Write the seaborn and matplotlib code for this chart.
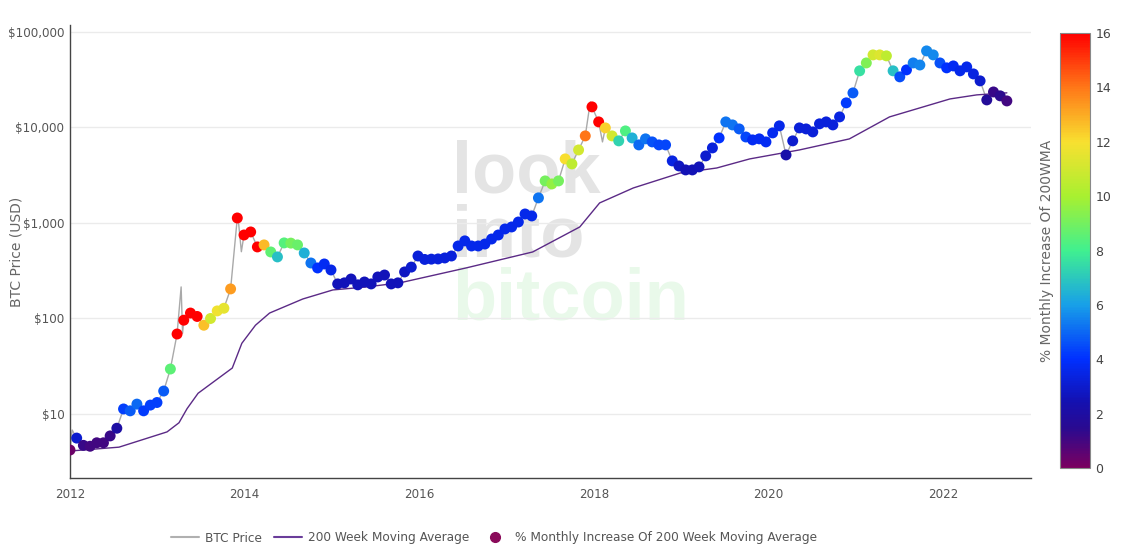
import numpy as np
import pandas as pd
import matplotlib
matplotlib.use("Agg")
import matplotlib.pyplot as plt
import matplotlib.dates as mdates
from matplotlib.colors import LinearSegmentedColormap, Normalize
from matplotlib.lines import Line2D
import seaborn as sns

btc_price = [
    4.2, 5.6, 4.7, 4.6, 5.0, 5.0, 5.9, 7.1, 11.3, 10.8,
    12.7, 10.8, 12.4, 13.2, 17.4, 29.6, 68.8, 96, 114, 105,
    85, 100, 120, 128, 204, 1127, 748, 805, 561, 589,
    497, 441, 618, 615, 589, 485, 381, 338, 372, 322,
    230, 236, 259, 225, 241, 230, 272, 285, 230, 236,
    307, 345, 451, 415, 418, 420, 430, 451, 574, 649,
    574, 574, 602, 679, 748, 865, 908, 1023, 1241, 1184,
    1830, 2754, 2560, 2754, 4680, 4150, 5810, 8150, 16400, 11420,
    9880, 8150, 7230, 9190, 7760, 6560, 7590, 7050, 6560, 6560,
    4460, 3950, 3590, 3590, 3860, 5030, 6100, 7760, 11420, 10620,
    9640, 7940, 7400, 7590, 7050, 8760, 10380, 5150, 7230, 9880,
    9640, 8970, 10900, 11420, 10620, 12880, 18070, 22970, 39100, 47300,
    57400, 57400, 56100, 39100, 33800, 40000, 47300, 45000, 63200, 57400,
    47300, 42000, 44000, 39100, 43000, 36300, 30700, 19400, 23500, 21400,
    18930,
]

# % monthly increase of the 200 week moving average (marker colour)
ma_increase = [
    0.3, 3.0, 1.2, 1.0, 1.0, 1.0, 1.2, 2.0, 4.3, 4.8,
    5.0, 4.2, 4.3, 4.3, 4.8, 8.5, 16, 16, 16, 16,
    12.6, 11.0, 11.8, 11.5, 13.3, 16, 16, 16, 16, 12.7,
    8.6, 6.8, 8.4, 9.0, 8.8, 6.4, 5.2, 4.0, 3.8, 3.5,
    2.6, 2.6, 2.6, 2.6, 2.6, 2.6, 2.6, 2.6, 2.6, 2.6,
    2.8, 3.0, 3.2, 3.3, 3.3, 3.3, 3.3, 3.3, 3.6, 3.6,
    3.6, 3.6, 3.6, 3.6, 3.6, 3.6, 3.6, 3.6, 3.6, 3.6,
    5.2, 9.0, 9.6, 9.0, 12.0, 10.5, 11.0, 14.0, 16, 16,
    12.3, 11.0, 7.3, 8.3, 6.4, 5.0, 5.2, 4.6, 4.4, 4.4,
    3.4, 2.8, 2.5, 2.5, 2.6, 3.0, 3.3, 4.0, 5.2, 5.2,
    4.8, 4.4, 3.8, 3.8, 3.8, 3.7, 3.6, 2.2, 3.0, 3.2,
    3.2, 3.2, 3.3, 3.3, 3.3, 3.4, 4.2, 4.8, 7.6, 9.2,
    11.0, 11.3, 10.5, 6.8, 4.5, 4.0, 5.4, 5.5, 5.6, 5.6,
    4.6, 4.0, 3.8, 3.6, 3.6, 3.4, 3.0, 1.7, 1.2, 1.4,
    1.0,
]

# intraday spikes of the price line
spike_dates = ["2012-01-10", "2013-04-10", "2013-04-16", "2013-12-04", "2013-12-18",
               "2017-12-17", "2018-02-06", "2021-04-14", "2021-11-10"]
spike_price = [6.8, 214, 70, 1150, 500, 18500, 7050, 63000, 68000]

# 200 week moving average
ma_dates = ["2012-01-01", "2012-07-24", "2013-02-10", "2013-04-01", "2013-05-05",
            "2013-06-20", "2013-11-10", "2013-12-20", "2014-02-15", "2014-04-15",
            "2014-09-01", "2015-01-05", "2015-05-26", "2015-10-12", "2016-07-15",
            "2017-04-20", "2017-11-03", "2018-01-25", "2018-06-15", "2018-12-28",
            "2019-05-30", "2019-10-15", "2020-05-10", "2020-12-05", "2021-05-22",
            "2022-01-30", "2022-05-22", "2022-09-25"]
ma_value = [4.1, 4.5, 6.5, 8.1, 11.4, 16.5, 30.3, 55, 85, 114,
            160, 199, 214, 236, 338, 497, 908, 1620, 2324, 3330,
            3760, 4680, 5810, 7580, 12880, 19860, 21900, 23000]

dates = pd.date_range("2012-01-01", periods=len(btc_price), freq="28D")
dots = pd.DataFrame({"date": dates, "price": btc_price, "incr": ma_increase})
line = pd.concat([
    dots[["date", "price"]],
    pd.DataFrame({"date": pd.to_datetime(spike_dates), "price": spike_price}),
]).sort_values("date")
ma = pd.DataFrame({"date": pd.to_datetime(ma_dates), "ma": ma_value})

cmap = LinearSegmentedColormap.from_list("incr", [
    (0.0, "#7a0060"), (0.09, "#2a0a90"), (0.15, "#1410b0"), (0.25, "#0030ff"),
    (0.375, "#18a0e8"), (0.5, "#40f090"), (0.625, "#a8f030"), (0.75, "#f8e030"),
    (0.875, "#ff7818"), (1.0, "#ff0000")])
norm = Normalize(0, 16)

sns.set_style("white")
plt.rcParams["font.family"] = ["DejaVu Sans"]

fig = plt.figure(figsize=(11.26, 5.47), dpi=100)
ax = fig.add_axes([70 / 1126, 69 / 547, 961 / 1126, 453 / 547])

# watermark
for txt, y, col in [("look", 0.63, "#e4e4e4"), ("into", 0.49, "#e4e4e4"), ("bitcoin", 0.35, "#e9f9ea")]:
    ax.text(0.398, y, txt, transform=ax.transAxes, fontsize=52, fontweight="bold",
            family="Liberation Sans", color=col, zorder=0, va="baseline")

sns.lineplot(data=line, x="date", y="price", color="#a9a9a9", linewidth=1, ax=ax, zorder=2)
sns.lineplot(data=ma, x="date", y="ma", color="#5b2a86", linewidth=1, ax=ax, zorder=2)
sns.scatterplot(data=dots, x="date", y="price", hue="incr",
                palette=cmap, hue_norm=norm, s=62, linewidth=0, legend=False, ax=ax, zorder=3)

ax.set_yscale("log")
ax.set_ylim(2.14, 118000)
ax.set_xlim(pd.Timestamp("2012-01-01"), pd.Timestamp("2023-01-04"))
ax.set_yticks([10, 100, 1000, 10000, 100000])
ax.set_yticklabels(["$10", "$100", "$1,000", "$10,000", "$100,000"])
ax.yaxis.set_minor_locator(matplotlib.ticker.NullLocator())
ax.xaxis.set_major_locator(mdates.YearLocator(2))
ax.xaxis.set_major_formatter(mdates.DateFormatter("%Y"))
ax.grid(axis="y", color="#ebebeb", linewidth=1)
ax.tick_params(length=0, labelsize=8.6, colors="#555555", pad=4)
ax.tick_params(axis="x", pad=7)
ax.set_xlabel("")
ax.set_ylabel("BTC Price (USD)", fontsize=10, color="#666666")
ax.yaxis.set_label_coords(-0.048, 0.5)
for side in ["top", "right"]:
    ax.spines[side].set_visible(False)
for side in ["left", "bottom"]:
    ax.spines[side].set_color("#444444")
    ax.spines[side].set_linewidth(1)

# colour bar
cax = fig.add_axes([1060 / 1126, 79 / 547, 30 / 1126, 435 / 547])
sm = plt.cm.ScalarMappable(norm=norm, cmap=cmap)
cb = fig.colorbar(sm, cax=cax, ticks=range(0, 17, 2))
cb.outline.set_edgecolor("#888888")
cb.ax.tick_params(length=0, labelsize=9, colors="#444444", pad=4)
cb.ax.yaxis.set_label_position("left")
cb.set_label("% Monthly Increase Of 200WMA", fontsize=10, color="#666666", labelpad=4)

handles = [
    Line2D([], [], color="#b0b0b0", linewidth=1.5),
    Line2D([], [], color="#6a3d9a", linewidth=1.5),
    Line2D([], [], color="#8a0a5a", marker="o", linestyle="", markersize=7),
]
labels = ["BTC Price", "200 Week Moving Average", "% Monthly Increase Of 200 Week Moving Average"]
fig.legend(handles, labels, loc="center", bbox_to_anchor=(494 / 1126, 9 / 547), ncol=3,
           frameon=False, fontsize=8.7, labelcolor="#555555", handlelength=2.3,
           handletextpad=0.5, columnspacing=1.0)

fig.savefig("out.png", dpi=100)
